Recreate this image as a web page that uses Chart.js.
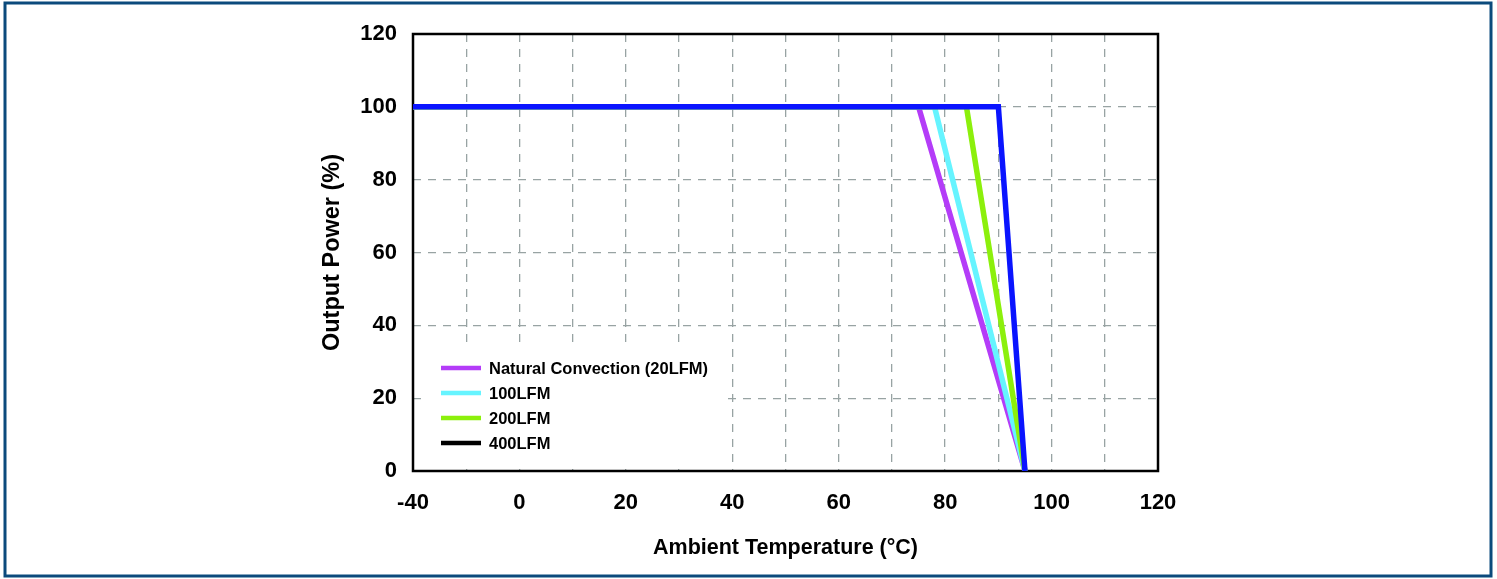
<!DOCTYPE html>
<html>
<head>
<meta charset="utf-8">
<script src="https://cdn.jsdelivr.net/npm/chart.js@4.4.1/dist/chart.umd.min.js"></script>
<style>
  html, body { margin: 0; padding: 0; background: #fff; }
  #wrap { width: 1497px; height: 579px; position: relative; }
</style>
</head>
<body>
<div id="wrap"><canvas id="c" width="1497" height="579"></canvas></div>
<script>
// x labels shown on the axis (the -40..0 span is squeezed into one step)
const xTickLabels = ['-40', '0', '20', '40', '60', '80', '100', '120'];
const yTicks = [0, 20, 40, 60, 80, 100, 120];

const seriesNames = ['Natural Convection (20LFM)', '100LFM', '200LFM', '400LFM'];
const natTemp   = [-40, 75, 95];
const lfm100Temp = [-40, 78, 95];
const lfm200Temp = [-40, 84, 95];
const lfm400Temp = [-40, 90, 95];
const natPower   = [100, 100, 0];
const lfm100Power = [100, 100, 0];
const lfm200Power = [100, 100, 0];
const lfm400Power = [100, 100, 0];

const lineColors = ['#b43cf8', '#66f4ff', '#8cf00c', '#0a14ff'];
const legendColors = ['#b43cf8', '#66f4ff', '#8cf00c', '#000000'];

// axis is piecewise: -40..0 takes one step, then 20 per step
function pos(t) {
  return t < 0 ? (t + 40) / 40 : 1 + t / 20;
}
function pts(xs, ys) {
  return xs.map((t, i) => ({ x: pos(t), y: ys[i] }));
}

const FONT = '"Liberation Sans", Arial, sans-serif';

const frame = {
  id: 'frame',
  beforeDatasetsDraw(chart) {
    const { ctx, chartArea: a } = chart;
    ctx.save();
    // legend box hides the grid behind it
    ctx.fillStyle = '#fff';
    ctx.fillRect(424, 348, 302, 114);
    ctx.strokeStyle = '#000';
    ctx.lineWidth = 2.5;
    ctx.strokeRect(a.left, a.top, a.right - a.left, a.bottom - a.top);
    ctx.restore();
  },
  afterDraw(chart) {
    const { ctx } = chart;
    ctx.save();
    // legend
    ctx.font = 'bold 16.5px ' + FONT;
    ctx.textBaseline = 'middle';
    ctx.fillStyle = '#000';
    seriesNames.forEach((n, i) => {
      const y = 368 + i * 25;
      ctx.strokeStyle = legendColors[i];
      ctx.lineWidth = 4.5;
      ctx.beginPath();
      ctx.moveTo(441, y);
      ctx.lineTo(481, y);
      ctx.stroke();
      ctx.fillText(n, 489, y + 1);
    });
    // outer page border
    ctx.strokeStyle = '#0b4a7c';
    ctx.lineWidth = 3;
    ctx.strokeRect(5, 3, 1486, 573);
    ctx.restore();
  }
};

const mk = (i, xs, ys, ord) => ({
  label: seriesNames[i],
  data: pts(xs, ys),
  borderColor: lineColors[i],
  backgroundColor: lineColors[i],
  borderWidth: 5.5,
  pointRadius: 0,
  tension: 0,
  order: ord
});

new Chart(document.getElementById('c'), {
  type: 'line',
  data: {
    datasets: [
      mk(0, natTemp, natPower, 4),
      mk(1, lfm100Temp, lfm100Power, 3),
      mk(2, lfm200Temp, lfm200Power, 2),
      mk(3, lfm400Temp, lfm400Power, 1)
    ]
  },
  options: {
    responsive: false,
    animation: false,
    layout: { padding: { left: 318, right: 339, top: 34, bottom: 18 } },
    plugins: { legend: { display: false }, tooltip: { enabled: false } },
    scales: {
      x: {
        type: 'linear',
        min: 0,
        max: 7,
        ticks: {
          stepSize: 0.5,
          autoSkip: false,
          maxRotation: 0,
          padding: 19,
          color: '#000',
          font: { family: FONT, size: 22, weight: 'bold' },
          callback: (v) => Number.isInteger(v) ? xTickLabels[v] : ''
        },
        grid: { color: '#98a3a3', lineWidth: 1.3, drawTicks: false },
        border: { display: false, dash: [8, 7] },
        title: {
          display: true,
          text: 'Ambient Temperature (°C)',
          color: '#000',
          font: { family: FONT, size: 21.5, weight: 'bold' },
          padding: { top: 10, bottom: 0 }
        },
        afterFit: (s) => { s.height = 579 - 18 - 471; }
      },
      y: {
        min: 0,
        max: 120,
        afterBuildTicks: (s) => { s.ticks = yTicks.map(v => ({ value: v })); },
        ticks: {
          padding: 16,
          color: '#000',
          font: { family: FONT, size: 22, weight: 'bold' }
        },
        grid: { color: '#98a3a3', lineWidth: 1.3, drawTicks: false },
        border: { display: false, dash: [8, 7] },
        title: {
          display: true,
          text: 'Output Power (%)',
          color: '#000',
          font: { family: FONT, size: 23.5, weight: 'bold' },
          padding: { top: 0, bottom: 0 }
        },
        afterFit: (s) => { s.width = 413 - 318; }
      }
    }
  },
  plugins: [frame]
});
</script>
</body>
</html>
